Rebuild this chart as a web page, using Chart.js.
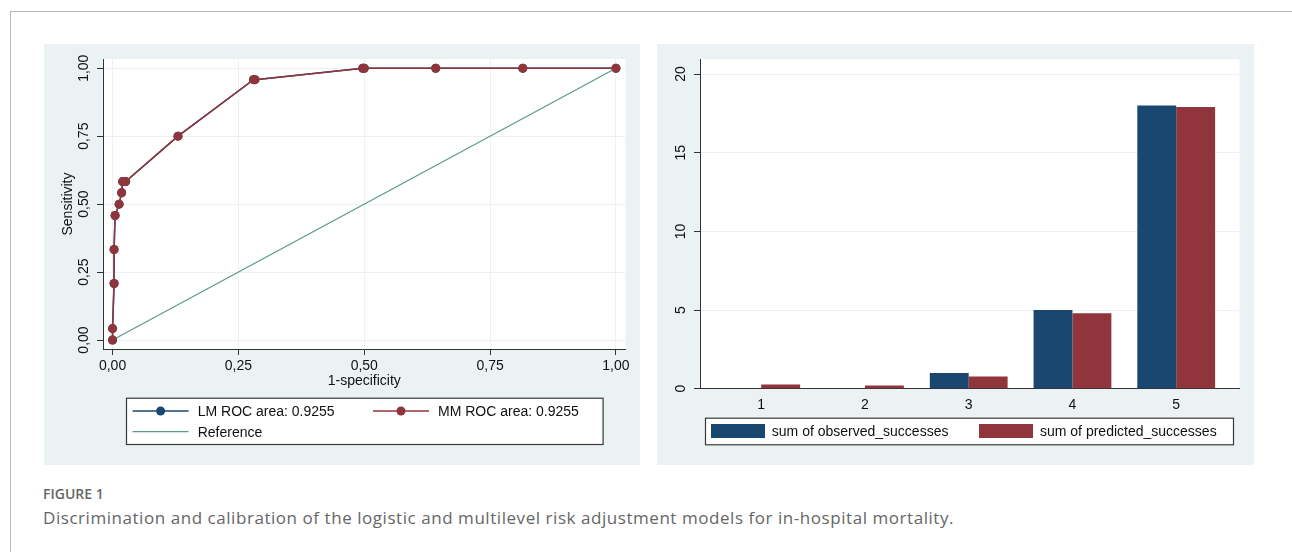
<!DOCTYPE html>
<html>
<head>
<meta charset="utf-8">
<title>Figure 1</title>
<script src="https://cdn.jsdelivr.net/npm/chart.js@4.4.1/dist/chart.umd.min.js"></script>
<style>
  body { margin: 0; width: 1292px; height: 552px; background: #fff; position: relative; overflow: hidden; }
  #frame { position: absolute; left: 10px; top: 11px; width: 1290px; height: 560px; border-top: 1px solid #b8b8b8; border-left: 1px solid #b8b8b8; }
  canvas { position: absolute; top: 44px; background: #eaf2f3; }
  #rocChart { left: 44px; }
  #barChart { left: 657px; }
  .fig-label { position: absolute; left: 43px; top: 484px; font: 600 14px "Open Sans", sans-serif; color: #666; }
  .fig-caption { position: absolute; left: 43px; top: 506px; font: 17px "Open Sans", sans-serif; letter-spacing: 0.55px; color: #666; white-space: nowrap; }
</style>
</head>
<body>
<div id="frame"></div>
<canvas id="rocChart" width="596" height="421"></canvas>
<canvas id="barChart" width="597" height="421"></canvas>
<div class="fig-label">FIGURE 1</div>
<div class="fig-caption">Discrimination and calibration of the logistic and multilevel risk adjustment models for in-hospital mortality.</div>

<script>
// ROC curve points (1-specificity, sensitivity), same for LM and MM
const rocFpr = [0, 0, 0.003, 0.003, 0.005, 0.013, 0.018, 0.02, 0.026, 0.13, 0.28, 0.283, 0.497, 0.5, 0.642, 0.815, 1];
const rocSens = [0, 0.042, 0.208, 0.333, 0.458, 0.5, 0.542, 0.583, 0.583, 0.75, 0.958, 0.958, 1, 1, 1, 1, 1];
const refX = [0, 1];
const refY = [0, 1];
const rocTicks = [0, 0.25, 0.5, 0.75, 1];

// calibration bars
const groups = [1, 2, 3, 4, 5];
const observed = [0, 0, 1, 5, 18];
const predicted = [0.26, 0.21, 0.77, 4.8, 17.9];
const barTicks = [0, 5, 10, 15, 20];

const navy = "#1a476f";
const maroon = "#90353b";
const refGreen = "#5a9e86";
const gridColor = "#eaf2f3";
const axisColor = "#333";
const textColor = "#111";

Chart.defaults.font.family = "'Liberation Sans', Arial, sans-serif";
Chart.defaults.font.size = 14;
Chart.defaults.color = textColor;

const toPts = (xs, ys) => xs.map((x, i) => ({ x: x, y: ys[i] }));
const comma = v => v.toFixed(2).replace(".", ",");

// white plot region
const plotBg = {
    id: "plotBg",
    beforeDraw(chart) {
        const a = chart.chartArea;
        chart.ctx.save();
        chart.ctx.fillStyle = "#fff";
        chart.ctx.fillRect(a.left, a.top, a.right - a.left, a.bottom - a.top);
        chart.ctx.restore();
    }
};

// stata style legend box
const boxLegend = {
    id: "boxLegend",
    afterDraw(chart, args, opts) {
        const ctx = chart.ctx;
        const [bx, by, bw, bh] = opts.box;
        ctx.save();
        ctx.fillStyle = "#fff";
        ctx.fillRect(bx, by, bw, bh);
        ctx.strokeStyle = "#3a3a3a";
        ctx.lineWidth = 1.2;
        ctx.strokeRect(bx + 0.5, by + 0.5, bw, bh);
        opts.items.forEach(it => {
            const ds = chart.data.datasets[it.ds];
            if (it.kind === "bar") {
                ctx.fillStyle = ds.backgroundColor;
                ctx.fillRect(it.x, it.y - 7, 54, 14);
            } else {
                ctx.strokeStyle = ds.borderColor;
                ctx.lineWidth = ds.borderWidth;
                ctx.beginPath();
                ctx.moveTo(it.x, it.y);
                ctx.lineTo(it.x + 56, it.y);
                ctx.stroke();
                if (ds.pointRadius > 0) {
                    ctx.fillStyle = ds.backgroundColor;
                    ctx.beginPath();
                    ctx.arc(it.x + 28, it.y, ds.pointRadius, 0, Math.PI * 2);
                    ctx.fill();
                }
            }
            ctx.fillStyle = textColor;
            ctx.font = "14px 'Liberation Sans', Arial, sans-serif";
            ctx.textBaseline = "middle";
            ctx.fillText(ds.label, it.tx, it.y + 1);
        });
        ctx.restore();
    }
};

// ROC chart
new Chart(document.getElementById("rocChart"), {
    type: "line",
    data: {
        datasets: [{
            label: "LM ROC area: 0.9255",
            data: toPts(rocFpr, rocSens),
            borderColor: navy,
            backgroundColor: navy,
            borderWidth: 1.5,
            pointRadius: 4.5,
            pointBorderWidth: 0,
            order: 2
        }, {
            label: "MM ROC area: 0.9255",
            data: toPts(rocFpr, rocSens),
            borderColor: maroon,
            backgroundColor: maroon,
            borderWidth: 1.5,
            pointRadius: 4.5,
            pointBorderWidth: 0,
            order: 1
        }, {
            label: "Reference",
            data: toPts(refX, refY),
            borderColor: refGreen,
            backgroundColor: refGreen,
            borderWidth: 1.3,
            pointRadius: 0,
            order: 3
        }]
    },
    options: {
        responsive: false,
        animation: false,
        events: [],
        layout: { padding: { left: 0, top: 15, right: 14.5, bottom: 75.9 } },
        plugins: {
            legend: { display: false },
            tooltip: { enabled: false },
            boxLegend: {
                box: [82, 353.7, 476.6, 46.3],
                items: [
                    { ds: 0, x: 88.6, y: 367, tx: 153.7 },
                    { ds: 1, x: 329, y: 367, tx: 394 },
                    { ds: 2, x: 88.6, y: 387.7, tx: 153.7 }
                ]
            }
        },
        scales: {
            x: {
                type: "linear",
                min: -0.019,
                max: 1.019,
                afterBuildTicks: s => { s.ticks = rocTicks.map(v => ({ value: v })); },
                afterFit: s => { s.height = 40.1; },
                ticks: { callback: v => comma(v), maxRotation: 0, padding: 3 },
                grid: { color: gridColor, tickColor: axisColor, tickLength: 6 },
                border: { color: axisColor, width: 1 },
                title: { display: true, text: "1-specificity", padding: { top: 0, bottom: 0 } }
            },
            y: {
                type: "linear",
                min: -0.033,
                max: 1.034,
                afterBuildTicks: s => { s.ticks = rocTicks.map(v => ({ value: v })); },
                afterFit: s => { s.width = 59; },
                ticks: { callback: v => comma(v), minRotation: 90, maxRotation: 90, crossAlign: "center", padding: -1 },
                grid: { color: gridColor, tickColor: axisColor, tickLength: 6 },
                border: { color: axisColor, width: 1 },
                title: { display: true, text: "Sensitivity", padding: { top: 16, bottom: 0 } }
            }
        }
    },
    plugins: [plotBg, boxLegend]
});

// calibration bar chart
new Chart(document.getElementById("barChart"), {
    type: "bar",
    data: {
        datasets: [{
            label: "sum of observed_successes",
            data: toPts(groups, observed),
            backgroundColor: navy
        }, {
            label: "sum of predicted_successes",
            data: toPts(groups, predicted),
            backgroundColor: maroon
        }]
    },
    options: {
        responsive: false,
        animation: false,
        events: [],
        categoryPercentage: 0.75,
        barPercentage: 1,
        layout: { padding: { left: 0, top: 15.3, right: 14.5, bottom: 51.3 } },
        plugins: {
            legend: { display: false },
            tooltip: { enabled: false },
            boxLegend: {
                box: [48, 373.7, 528, 26.6],
                items: [
                    { ds: 0, kind: "bar", x: 54, y: 387, tx: 114.8 },
                    { ds: 1, kind: "bar", x: 322, y: 387, tx: 383 }
                ]
            }
        },
        scales: {
            x: {
                type: "linear",
                offset: false,
                min: 0.41,
                max: 5.61,
                afterBuildTicks: s => { s.ticks = groups.map(v => ({ value: v })); },
                afterFit: s => { s.height = 25; },
                ticks: { callback: v => String(v), maxRotation: 0, padding: 0 },
                grid: { display: false, offset: false },
                border: { color: axisColor, width: 1 }
            },
            y: {
                type: "linear",
                min: 0,
                max: 20.94,
                afterBuildTicks: s => { s.ticks = barTicks.map(v => ({ value: v })); },
                afterFit: s => { s.width = 43; },
                ticks: { minRotation: 90, maxRotation: 90, crossAlign: "center", padding: 5 },
                grid: { color: gridColor, tickColor: axisColor, tickLength: 6 },
                border: { color: axisColor, width: 1 }
            }
        }
    },
    plugins: [plotBg, boxLegend]
});
</script>
</body>
</html>
